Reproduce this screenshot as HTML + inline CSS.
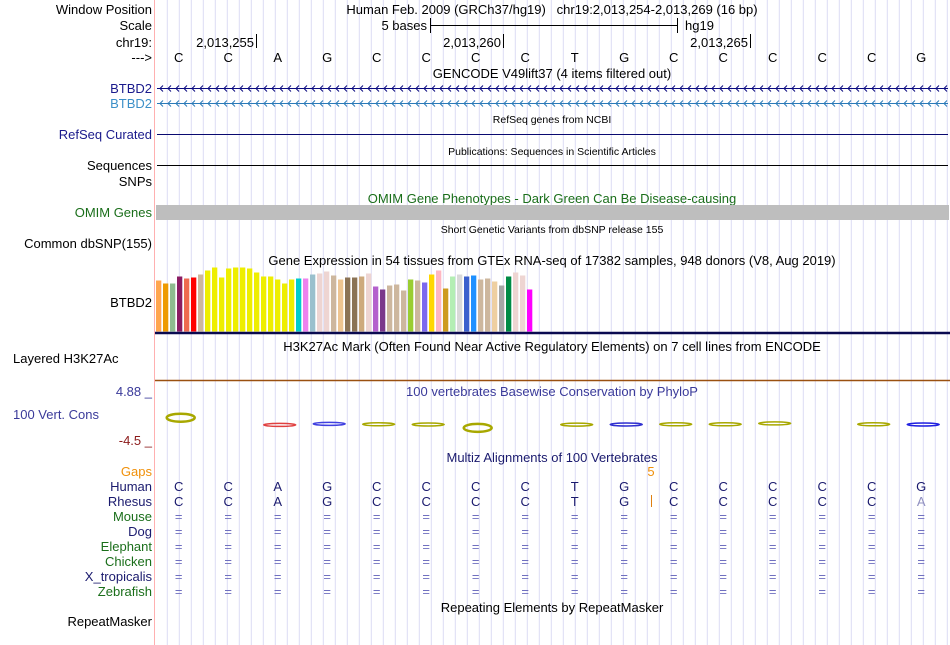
<!DOCTYPE html>
<html><head><meta charset="utf-8">
<style>
html,body{margin:0;padding:0;background:#fff;}
svg{display:block;font-family:"Liberation Sans",sans-serif;}
</style></head>
<body>
<svg id="b" width="950" height="645" viewBox="0 0 950 645">
<g id="grid"></g>
<line x1="154.5" y1="0" x2="154.5" y2="645" stroke="#ffb0b0" stroke-width="1"/>
<g font-size="13" text-anchor="end">
<text x="152" y="14" fill="#000">Window Position</text>
<text x="152" y="30" fill="#000">Scale</text>
<text x="152" y="47" fill="#000">chr19:</text>
<text x="152" y="62" fill="#000">---&gt;</text>
<text x="152" y="93" fill="#1a1a8c">BTBD2</text>
<text x="152" y="108" fill="#3b8fc8">BTBD2</text>
<text x="152" y="139" fill="#1a1a8c">RefSeq Curated</text>
<text x="152" y="170" fill="#000">Sequences</text>
<text x="152" y="186" fill="#000">SNPs</text>
<text x="152" y="217" fill="#1a6e1a">OMIM Genes</text>
<text x="152" y="248" fill="#000">Common dbSNP(155)</text>
<text x="152" y="307" fill="#000">BTBD2</text>
<text x="13" y="363" fill="#000" text-anchor="start">Layered H3K27Ac</text>
<text x="99" y="419" fill="#3a3a9a">100 Vert. Cons</text>
<text x="152" y="396" fill="#3a3a9a">4.88 _</text>
<text x="152" y="445" fill="#8b1a1a">-4.5 _</text>
<text x="152" y="476" fill="#f0900a">Gaps</text>
<text x="152" y="491" fill="#1a1a6e">Human</text>
<text x="152" y="506" fill="#1a1a6e">Rhesus</text>
<text x="152" y="521" fill="#1a6e1a">Mouse</text>
<text x="152" y="536" fill="#1a1a6e">Dog</text>
<text x="152" y="551" fill="#1a6e1a">Elephant</text>
<text x="152" y="566" fill="#1a6e1a">Chicken</text>
<text x="152" y="581" fill="#1a1a6e">X_tropicalis</text>
<text x="152" y="596" fill="#1a6e1a">Zebrafish</text>
<text x="152" y="626" fill="#000">RepeatMasker</text>
</g>
<g font-size="13" text-anchor="middle">
<text x="552" y="14">Human Feb. 2009 (GRCh37/hg19)&#160;&#160;&#160;chr19:2,013,254-2,013,269 (16 bp)</text>
<text x="552" y="78">GENCODE V49lift37 (4 items filtered out)</text>
<text x="552" y="123" font-size="10.5">RefSeq genes from NCBI</text>
<text x="552" y="155" font-size="10.5">Publications: Sequences in Scientific Articles</text>
<text x="552" y="203" fill="#1a6e1a">OMIM Gene Phenotypes - Dark Green Can Be Disease-causing</text>
<text x="552" y="233" font-size="10.5">Short Genetic Variants from dbSNP release 155</text>
<text x="552" y="265">Gene Expression in 54 tissues from GTEx RNA-seq of 17382 samples, 948 donors (V8, Aug 2019)</text>
<text x="552" y="351">H3K27Ac Mark (Often Found Near Active Regulatory Elements) on 7 cell lines from ENCODE</text>
<text x="552" y="396" fill="#3a3a9a">100 vertebrates Basewise Conservation by PhyloP</text>
<text x="552" y="462" fill="#1a1a6e">Multiz Alignments of 100 Vertebrates</text>
<text x="552" y="612">Repeating Elements by RepeatMasker</text>
</g>
<g font-size="13">
<text x="427" y="30" text-anchor="end">5 bases</text>
<line x1="430.5" y1="18" x2="430.5" y2="33" stroke="#000"/>
<line x1="430" y1="25.5" x2="678" y2="25.5" stroke="#000"/>
<line x1="677.5" y1="18" x2="677.5" y2="33" stroke="#000"/>
<text x="685" y="30">hg19</text>
<text x="254" y="47" text-anchor="end">2,013,255</text><line x1="256.5" y1="34" x2="256.5" y2="48" stroke="#000"/>
<text x="501" y="47" text-anchor="end">2,013,260</text><line x1="503.5" y1="34" x2="503.5" y2="48" stroke="#000"/>
<text x="748" y="47" text-anchor="end">2,013,265</text><line x1="750.5" y1="34" x2="750.5" y2="48" stroke="#000"/>
</g>
<g id="bases" font-size="13" text-anchor="middle"></g>
<g id="genes"></g>
<line x1="157" y1="134.5" x2="948" y2="134.5" stroke="#0a0a70"/>
<line x1="157" y1="165.5" x2="948" y2="165.5" stroke="#000"/>
<rect x="156" y="205" width="793" height="15" fill="#bebebe"/>
<g id="gtex"></g>
<line x1="155" y1="333" x2="950" y2="333" stroke="#0a0a50" stroke-width="2.5"/>
<line x1="155" y1="380.5" x2="950" y2="380.5" stroke="#9a5010" stroke-width="1.5"/>
<g id="cons"></g>
<g id="align" font-size="13" text-anchor="middle"></g>
</svg>
<script>
var bases = ["C","C","A","G","C","C","C","C","T","G","C","C","C","C","C","G"];
var rhesus = ["C","C","A","G","C","C","C","C","T","G","C","C","C","C","C","A"];
var gtexValues = [51,48,48,55,53,54,57,61,64,54,63,64,64,63,59,55,55,52,48,52,53,53,57,58,60,56,52,54,54,55,58,45,42,46,47,41,52,51,49,57,61,43,55,57,55,56,52,53,50,46,55,59,56,42];
var gtexColors = ["#ffa54f","#ee9a00","#8fbc8f","#8b1c62","#ee6a50","#ff0000","#cdb79e","#eeee00","#eeee00","#eeee00","#eeee00","#eeee00","#eeee00","#eeee00","#eeee00","#eeee00","#eeee00","#eeee00","#eeee00","#eeee00","#00cdcd","#ee82ee","#9ac0cd","#eed5d2","#eed5d2","#cdb79e","#eec591","#8b7355","#8b7355","#cdaa7d","#eed5d2","#b460cd","#7a378b","#cdb79e","#cdb79e","#cdb79e","#9acd32","#cdb79e","#7b68ee","#ffd700","#ffb6c1","#cd9b1d","#b4eeb4","#d9d9d9","#3a5fcd","#1e90ff","#cdb79e","#cdb79e","#eecfa1","#a6a6a6","#008b45","#eed5d2","#eed5d2","#ff00ff"];
var consValues = [4.2,0,-0.6,0.1,-0.2,-0.3,-2.6,0,-0.4,-0.3,-0.2,-0.2,0.4,0,-0.2,-0.3];
var consColors = ["#a8a800","#fff","#e04040","#4040e0","#a8a800","#a8a800","#a8a800","#fff","#a8a800","#3030d0","#a8a800","#a8a800","#a8a800","#fff","#a8a800","#2020e0"];
var NS="http://www.w3.org/2000/svg";
function mk(t,a,p){var e=document.createElementNS(NS,t);for(var k in a)e.setAttribute(k,a[k]);p.appendChild(e);return e;}
function xBase(i){return 178.7+49.5*i;}
var grid=document.getElementById('grid');
for(var gx=167.3;gx<950;gx+=12){var l=mk('line',{x1:gx,y1:0,x2:gx,y2:645,stroke:'#dcdcf4','stroke-width':1},grid);

}
var bg=document.getElementById('bases');
bases.forEach(function(b,i){var t=mk('text',{x:xBase(i),y:62},bg);t.textContent=b;

});
var genes=document.getElementById('genes');
[[88,'#0a0a80'],[103,'#2a7ab8']].forEach(function(g,k){
var l=mk('line',{x1:157,y1:g[0]+0.5,x2:948,y2:g[0]+0.5,stroke:g[1]},genes);


var d='';for(var x=160;x<948;x+=8){d+='M'+(x+3)+' '+(g[0]-2.5)+'L'+x+' '+(g[0]+0.5)+'L'+(x+3)+' '+(g[0]+3.5);}
var p=mk('path',{d:d,stroke:g[1],fill:'none','stroke-width':1},genes);

});
var gt=document.getElementById('gtex');var base=331.5;
function yG(v){return base-v;}
gtexValues.forEach(function(v,i){var r=mk('rect',{x:156+i*7,y:yG(v),width:5.3,height:base-yG(v),fill:gtexColors[i]},gt);

});
var cg=document.getElementById('cons');
function yC(v){return 424-v*1.5;}
consValues.forEach(function(v,i){if(consColors[i]==='#fff')return;var cx=xBase(i)+2;var y=yC(v);
var big=Math.abs(v)>1;var e=mk('ellipse',{cx:cx,cy:y,rx:big?14:16,ry:big?4:1.5,fill:'none',stroke:consColors[i],'stroke-width':big?2.5:1.5},cg);

});
var al=document.getElementById('align');
bases.forEach(function(b,i){var t=mk('text',{x:xBase(i),y:491,fill:'#1a1a6e'},al);t.textContent=b;


var r=mk('text',{x:xBase(i),y:506,fill:(i===15?'#9090c0':'#1a1a6e')},al);r.textContent=rhesus[i];


for(var s=0;s<6;s++){var q=mk('text',{x:xBase(i),y:521+15*s,fill:'#7070c0'},al);q.textContent='=';

}});
var g5=mk('text',{x:651,y:476,fill:'#f0900a'},al);g5.textContent='5';


var gl=mk('line',{x1:651.5,y1:495,x2:651.5,y2:507,stroke:'#e08010'},al);


</script>
</body></html>
